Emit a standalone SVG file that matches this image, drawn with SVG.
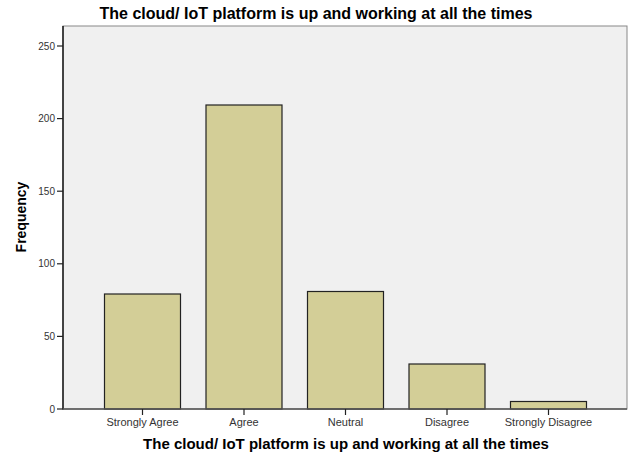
<svg xmlns="http://www.w3.org/2000/svg" width="630" height="454" viewBox="0 0 630 454">
<style>
.t{font-family:"Liberation Sans",Arial,sans-serif;font-weight:bold;fill:#000}
.tick{font-family:"Liberation Sans",Arial,sans-serif;font-size:10px;fill:#333}
.cat{font-family:"Liberation Sans",Arial,sans-serif;font-size:11px;fill:#333}
.bar{fill:#d3ce97;stroke:#222;stroke-width:1.2}
.tk{stroke:#222;stroke-width:1.2}
</style>
<rect width="630" height="454" fill="#fff"/>
<text class="t" x="316" y="19" font-size="16" text-anchor="middle">The cloud/ IoT platform is up and working at all the times</text>
<rect x="63" y="26" width="564" height="383" fill="#f0f0f0" stroke="#888" stroke-width="1"/>
<g id="bars">
<g id="bar-strongly-agree"><rect class="bar" x="104.5" y="294" width="76" height="115"/></g>
<g id="bar-agree"><rect class="bar" x="206" y="105" width="76" height="304"/></g>
<g id="bar-neutral"><rect class="bar" x="307.5" y="291.5" width="76" height="117.5"/></g>
<g id="bar-disagree"><rect class="bar" x="409" y="364" width="76" height="45"/></g>
<g id="bar-strongly-disagree"><rect class="bar" x="510.5" y="401.5" width="76" height="7.5"/></g>
</g>
<g id="axes">
<line x1="63" y1="26" x2="63" y2="409.5" stroke="#000" stroke-width="1.3"/>
<line x1="63" y1="409" x2="627" y2="409" stroke="#555" stroke-width="1.3"/>
<line class="tk" x1="57" y1="409" x2="63" y2="409"/>
<line class="tk" x1="57" y1="336.4" x2="63" y2="336.4"/>
<line class="tk" x1="57" y1="263.8" x2="63" y2="263.8"/>
<line class="tk" x1="57" y1="191.2" x2="63" y2="191.2"/>
<line class="tk" x1="57" y1="118.6" x2="63" y2="118.6"/>
<line class="tk" x1="57" y1="46" x2="63" y2="46"/>
<text class="tick" x="55" y="412.5" text-anchor="end">0</text>
<text class="tick" x="55" y="340" text-anchor="end">50</text>
<text class="tick" x="55" y="267.3" text-anchor="end">100</text>
<text class="tick" x="55" y="194.7" text-anchor="end">150</text>
<text class="tick" x="55" y="122.1" text-anchor="end">200</text>
<text class="tick" x="55" y="49.5" text-anchor="end">250</text>
<line class="tk" x1="142.5" y1="409" x2="142.5" y2="415"/>
<line class="tk" x1="244" y1="409" x2="244" y2="415"/>
<line class="tk" x1="345.5" y1="409" x2="345.5" y2="415"/>
<line class="tk" x1="447" y1="409" x2="447" y2="415"/>
<line class="tk" x1="548.5" y1="409" x2="548.5" y2="415"/>
<text class="cat" x="142.5" y="425.5" text-anchor="middle">Strongly Agree</text>
<text class="cat" x="244" y="425.5" text-anchor="middle">Agree</text>
<text class="cat" x="345.5" y="425.5" text-anchor="middle">Neutral</text>
<text class="cat" x="447" y="425.5" text-anchor="middle">Disagree</text>
<text class="cat" x="548.5" y="425.5" text-anchor="middle">Strongly Disagree</text>
</g>
<text class="t" x="346" y="449" font-size="15" text-anchor="middle">The cloud/ IoT platform is up and working at all the times</text>
<text class="t" x="0" y="0" font-size="14" text-anchor="middle" transform="translate(25.5,217) rotate(-90)">Frequency</text>
</svg>
